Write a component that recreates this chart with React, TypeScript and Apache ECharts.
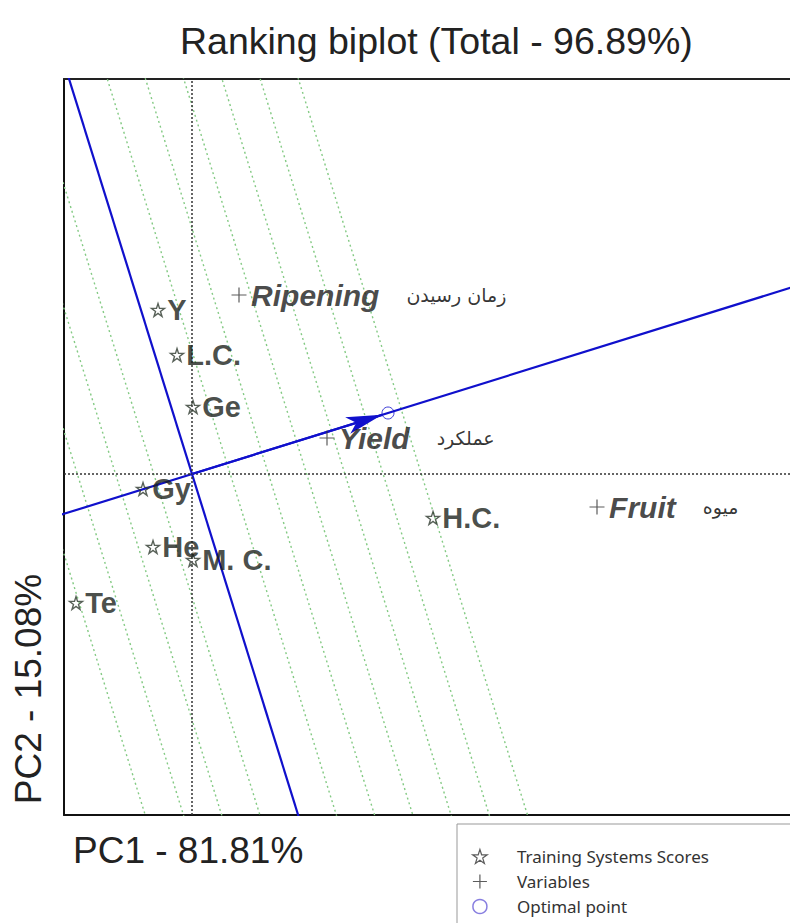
import React, { useEffect, useRef } from "react";
import * as echarts from "echarts";

const TITLE = "Ranking biplot (Total - 96.89%)";
const X_NAME = "PC1 - 81.81%";
const Y_NAME = "PC2 - 15.08%";

const genotypeNames = ["Y", "L.C.", "Ge", "Gy", "He", "M. C.", "Te", "H.C."];
const genotypePC1 = [-0.34, -0.15, 0.01, -0.49, -0.39, 0.01, -1.16, 2.41];
const genotypePC2 = [1.64, 1.19, 0.67, -0.15, -0.73, -0.86, -1.29, -0.44];

const variableNames = ["Ripening", "Yield", "Fruit"];
const variablePersian = ["زمان رسیدن", "عملکرد", "میوه"];
const variablePC1 = [0.47, 1.35, 4.05];
const variablePC2 = [1.79, 0.36, -0.33];

const optimalPoint = [1.96, 0.61];
const ringStep = 0.365;
const ringIndices = [-4, -3, -2, -1, 1, 2, 3, 4, 5, 6];

const xRange = [-1.28, 5.98];
const yRange = [-3.41, 3.95];

const legendNames = ["Training Systems Scores", "Variables", "Optimal point"];

const STAR =
  "path://M50,2 L61,36 L97,36 L68,57 L79,92 L50,71 L21,92 L32,57 L3,36 L39,36 Z";
const PLUS = "path://M0,50 L100,50 M50,0 L50,100";

const SANS = "'Liberation Sans', Arial, sans-serif";
const BLUE = "#1010cc";

export default function App() {
  const ref = useRef<HTMLDivElement>(null);
  useEffect(() => {
    if (!ref.current) return;
    const chart = echarts.init(ref.current, undefined, { renderer: "svg" });

    const len = Math.hypot(optimalPoint[0], optimalPoint[1]);
    const u = [optimalPoint[0] / len, optimalPoint[1] / len];
    const p = [-u[1], u[0]];
    const far = 12;

    const ringSeries = ringIndices.map((k) => {
      const c = [k * ringStep * u[0], k * ringStep * u[1]];
      return {
        type: "line",
        silent: true,
        symbol: "none",
        z: 1,
        lineStyle: { color: "#84ca84", width: 1.4, type: [2, 3] },
        data: [
          [c[0] - far * p[0], c[1] - far * p[1]],
          [c[0] + far * p[0], c[1] + far * p[1]],
        ],
      };
    });

    const arrowFactor = 0.97;
    const arrowEnd = [optimalPoint[0] * arrowFactor, optimalPoint[1] * arrowFactor];

    const option: any = {
      animation: false,
      backgroundColor: "#fff",
      title: {
        text: TITLE,
        left: 175,
        top: 17,
        textStyle: { fontFamily: SANS, fontSize: 37.5, fontWeight: "normal", color: "#222" },
      },
      grid: { left: 64, top: 79, right: 0, bottom: 108 },
      xAxis: [
        {
          type: "value",
          min: xRange[0],
          max: xRange[1],
          position: "bottom",
          axisLine: { show: true, onZero: false, lineStyle: { color: "#111", width: 2 } },
          axisTick: { show: false },
          axisLabel: { show: false },
          splitLine: { show: false },
        },
        {
          type: "value",
          min: xRange[0],
          max: xRange[1],
          position: "top",
          axisLine: { show: true, onZero: false, lineStyle: { color: "#222", width: 2 } },
          axisTick: { show: false },
          axisLabel: { show: false },
          splitLine: { show: false },
        },
      ],
      yAxis: {
        type: "value",
        min: yRange[0],
        max: yRange[1],
        axisLine: { show: true, onZero: false, lineStyle: { color: "#111", width: 2 } },
        axisTick: { show: false },
        axisLabel: { show: false },
        splitLine: { show: false },
      },
      legend: {
        orient: "vertical",
        left: 472,
        top: 848,
        height: 150,
        padding: 0,
        itemWidth: 16,
        itemHeight: 14,
        itemGap: 8,
        selectedMode: false,
        textStyle: { fontFamily: "'Noto Sans', sans-serif", fontSize: 17, color: "#333", padding: [0, 0, 0, 24] },
        data: [
          { name: legendNames[0], icon: STAR, itemStyle: { color: "transparent", borderColor: "#333", borderWidth: 1.2 } },
          { name: legendNames[1], icon: PLUS, itemStyle: { color: "transparent", borderColor: "#333", borderWidth: 1.2 } },
          { name: legendNames[2], icon: "circle", itemStyle: { color: "transparent", borderColor: "#6a5fd8", borderWidth: 1.5 } },
        ],
      },
      graphic: [
        {
          type: "rect",
          z: -10,
          shape: { x: 457, y: 824, width: 400, height: 200 },
          style: { fill: "#fff", stroke: "#999", lineWidth: 1 },
        },
        {
          type: "text",
          x: 73,
          y: 850,
          style: {
            text: X_NAME,
            fontFamily: SANS,
            fontSize: 37,
            fill: "#222",
            align: "left",
            verticalAlign: "middle",
          },
        },
        {
          type: "text",
          x: 28,
          y: 689,
          rotation: Math.PI / 2,
          style: {
            text: Y_NAME,
            fontFamily: SANS,
            fontSize: 37,
            fill: "#222",
            align: "center",
            verticalAlign: "middle",
          },
        },
      ],
      series: [
        ...ringSeries,
        {
          type: "line",
          data: [],
          silent: true,
          markLine: {
            silent: true,
            symbol: "none",
            label: { show: false },
            lineStyle: { color: "#333", width: 1.5, type: [2, 2] },
            data: [{ xAxis: 0 }, { yAxis: 0 }],
          },
        },
        {
          type: "line",
          silent: true,
          symbol: "none",
          z: 3,
          lineStyle: { color: BLUE, width: 2.2 },
          data: [
            [-far * u[0], -far * u[1]],
            [far * u[0], far * u[1]],
          ],
        },
        {
          type: "line",
          silent: true,
          symbol: "none",
          z: 3,
          lineStyle: { color: BLUE, width: 2.2 },
          data: [
            [-far * p[0], -far * p[1]],
            [far * p[0], far * p[1]],
          ],
        },
        {
          type: "line",
          data: [],
          silent: true,
          z: 3,
          markLine: {
            silent: true,
            symbol: ["none", "arrow"],
            symbolSize: [13, 36],
            label: { show: false },
            lineStyle: { color: BLUE, width: 2.2, type: "solid" },
            itemStyle: { color: BLUE },
            data: [[{ coord: [0, 0] }, { coord: arrowEnd }]],
          },
        },
        {
          name: legendNames[0],
          type: "scatter",
          z: 5,
          symbol: STAR,
          symbolSize: 13,
          itemStyle: { color: "transparent", borderColor: "#2e3a2e", borderWidth: 1.4 },
          label: {
            show: true,
            position: "right",
            distance: 2,
            fontFamily: SANS,
            fontWeight: "bold",
            fontSize: 29,
            color: "#1a1f1a",
            formatter: (d: any) => d.data[2],
          },
          data: genotypeNames.map((n, i) => [genotypePC1[i], genotypePC2[i], n]),
        },
        {
          name: legendNames[1],
          type: "scatter",
          z: 5,
          symbol: PLUS,
          symbolSize: 15,
          itemStyle: { color: "transparent", borderColor: "#333", borderWidth: 1.2 },
          label: {
            show: true,
            position: "right",
            distance: 4,
            formatter: (d: any) => `{en|${d.data[2]}}{fa|${d.data[3]}}`,
            rich: {
              en: {
                fontFamily: SANS,
                fontWeight: "bold",
                fontStyle: "italic",
                fontSize: 30,
                color: "#1a1a1a",
              },
              fa: {
                fontFamily: "'DejaVu Sans', sans-serif",
                fontSize: 19,
                color: "#000",
                padding: [0, 0, 0, 27],
              },
            },
          },
          data: variableNames.map((n, i) => [variablePC1[i], variablePC2[i], n, variablePersian[i]]),
        },
        {
          name: legendNames[2],
          type: "scatter",
          z: 6,
          symbol: "circle",
          symbolSize: 12,
          itemStyle: { color: "transparent", borderColor: BLUE, borderWidth: 1 },
          data: [optimalPoint],
        },
      ],
    };

    chart.setOption(option);
    return () => chart.dispose();
  }, []);

  return (
    <div
      ref={ref}
      style={{ position: "absolute", left: 0, top: 0, width: 790, height: 923 }}
    />
  );
}
